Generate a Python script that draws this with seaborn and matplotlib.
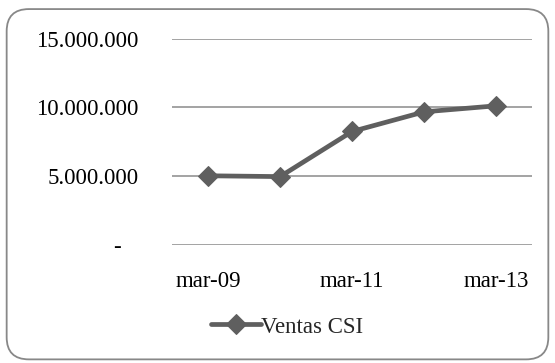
import matplotlib.pyplot as plt
import matplotlib.ticker as mticker
from matplotlib.patches import FancyBboxPatch
import seaborn as sns
import pandas as pd

# datos
periodos = ['mar-09', 'mar-10', 'mar-11', 'mar-12', 'mar-13']
ventas = [5020000, 4960000, 8250000, 9680000, 10120000]
y_ticks = [0, 5000000, 10000000, 15000000]

df = pd.DataFrame({'periodo': periodos, 'ventas': ventas, 'serie': 'Ventas CSI'})
df['pos'] = range(len(periodos))

sns.set_theme(style="white")
plt.rcParams['font.family'] = ['Liberation Serif', 'DejaVu Serif']

color = '#5f5f5f'
font_size = 16.5

fig = plt.figure(figsize=(5.55, 3.63), dpi=100)
ax = fig.add_axes([0.31, 0.326, 0.649, 0.567])

sns.lineplot(x='pos', y='ventas', data=df, ax=ax, color=color, linewidth=3.4,
             marker='D', markersize=10, markeredgecolor=color, label='Ventas CSI')

ax.set_xlim(-0.5, len(periodos) - 0.5)
ax.set_ylim(0, 15000000)
ax.set_yticks(y_ticks)
ax.yaxis.set_major_formatter(mticker.FuncFormatter(
    lambda v, p: '-   ' if v == 0 else f'{int(v):,}'.replace(',', '.')))
ax.set_xticks([0, 2, 4])
ax.set_xticklabels([periodos[i] for i in [0, 2, 4]])
ax.tick_params(axis='both', labelsize=font_size, colors='black', length=0)
ax.tick_params(axis='y', pad=24)
ax.tick_params(axis='x', pad=19)
ax.grid(axis='y', color='#8a8a8a', linewidth=1.1)
ax.set_axisbelow(True)
for s in ax.spines.values():
    s.set_visible(False)
ax.set_xlabel('')
ax.set_ylabel('')

leg = ax.legend(loc='center', bbox_to_anchor=(0.32, -0.40), frameon=False,
                fontsize=font_size, handlelength=2.2, handletextpad=0.0)

borde = FancyBboxPatch((0.012, 0.01), 0.976, 0.965, boxstyle='round,pad=0,rounding_size=0.04',
                       transform=fig.transFigure, facecolor='none', edgecolor='#888888',
                       linewidth=1.3, mutation_aspect=555 / 363)
fig.patches.append(borde)

plt.savefig('out.png', dpi=100)
plt.close()
